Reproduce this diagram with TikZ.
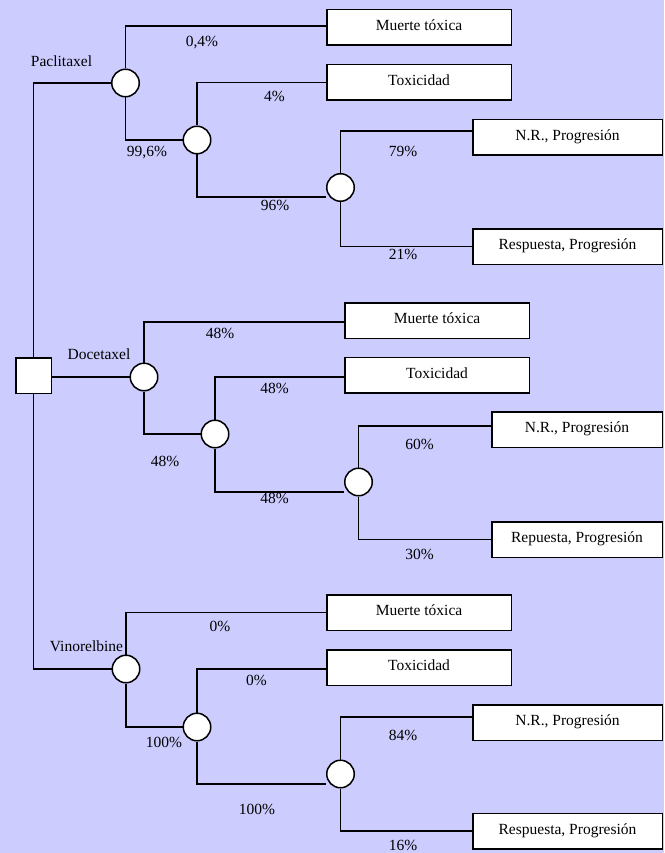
\documentclass[tikz,border=0pt]{standalone}
\usepackage{fontspec}
\setmainfont{Liberation Serif}
\pgfdeclarelayer{back}
\pgfdeclarelayer{wires}
\pgfsetlayers{back,wires,main}
\definecolor{bgc}{RGB}{204,204,255}
\begin{document}
\begin{tikzpicture}[x=1pt,y=-1pt,
  every node/.style={font=\fontsize{15.5}{18}\selectfont},
  chance/.style={circle,draw,fill=white,line width=1.5pt,minimum size=27.5pt,inner sep=0pt},
  decision/.style={rectangle,draw,fill=white,line width=1.5pt,minimum size=35.5pt,inner sep=0pt},
  outcome/.style={rectangle,draw,fill=white,line width=1.5pt,minimum height=35.5pt,inner sep=0pt,text height=0.66em,text depth=0pt},
  wbox/.style={outcome,minimum width=184.5pt},
  nbox/.style={outcome,minimum width=189.5pt},
  dbox/.style={outcome,minimum width=170.5pt},
  lbl/.style={inner sep=0pt,text height=0.68em,text depth=0pt},
  wire/.style={line width=1.2pt}]
\useasboundingbox (0,0) rectangle (664,853);
\begin{pgfonlayer}{back}
\fill[bgc] (0,0) rectangle (664,853);
\end{pgfonlayer}

% decision
\node[decision] (dec) at (33.5,375.5) {};

% Paclitaxel branch
\node[chance] (p1) at (125.5,83) {};
\node[chance] (p2) at (197,140) {};
\node[chance] (p3) at (340.5,187.5) {};
\node[wbox] (pm) at (419,27.5) {Muerte tóxica};
\node[wbox] (pt) at (419,82.5) {Toxicidad};
\node[nbox] (pn) at (567.5,137.5) {N.R., Progresión};
\node[nbox] (pr) at (567.5,246.5) {Respuesta, Progresión};
\node[lbl] (lpac) at (61.5,63) {Paclitaxel};
\node[lbl] (lp1) at (202,43) {0,4\%};
\node[lbl] (lp2) at (147,153) {99,6\%};
\node[lbl] (lp3) at (274.5,98) {4\%};
\node[lbl] (lp4) at (275,207) {96\%};
\node[lbl] (lp5) at (403,153) {79\%};
\node[lbl] (lp6) at (403,256) {21\%};

% Docetaxel branch
\node[chance] (d1) at (144,377) {};
\node[chance] (d2) at (215,434) {};
\node[chance] (d3) at (358.5,482) {};
\node[wbox] (dm) at (437,320.5) {Muerte tóxica};
\node[wbox] (dt) at (437,375) {Toxicidad};
\node[dbox] (dn) at (577,429.5) {N.R., Progresión};
\node[dbox] (dr) at (577,539.5) {Repuesta, Progresión};
\node[lbl] (ldoc) at (99,356) {Docetaxel};
\node[lbl] (ld1) at (220,335) {48\%};
\node[lbl] (ld2) at (165,463) {48\%};
\node[lbl] (ld3) at (274.5,390) {48\%};
\node[lbl] (ld4) at (274.5,500) {48\%};
\node[lbl] (ld5) at (419.5,446) {60\%};
\node[lbl] (ld6) at (419.5,556) {30\%};

% Vinorelbine branch
\node[chance] (v1) at (126,669) {};
\node[chance] (v2) at (197,727) {};
\node[chance] (v3) at (340.5,774) {};
\node[wbox] (vm) at (419,612.5) {Muerte tóxica};
\node[wbox] (vt) at (419,667.5) {Toxicidad};
\node[nbox] (vn) at (567.5,722.5) {N.R., Progresión};
\node[nbox] (vr) at (567.5,831) {Respuesta, Progresión};
\node[lbl] (lvin) at (86.5,648) {Vinorelbine};
\node[lbl] (lv1) at (220,628) {0\%};
\node[lbl] (lv2) at (164,744) {100\%};
\node[lbl] (lv3) at (256.5,682) {0\%};
\node[lbl] (lv4) at (257,811) {100\%};
\node[lbl] (lv5) at (403,737) {84\%};
\node[lbl] (lv6) at (403,847) {16\%};

\begin{pgfonlayer}{wires}
\draw[wire] (dec.north) |- (p1.west);
\draw[wire] (dec.east |- d1.west) -- (d1.west);
\draw[wire] (dec.south) |- (v1.west);
% P
\draw[wire] (p1.north) |- ([yshift=1.5pt]pm.west);
\draw[wire] (p1.south) |- (p2.west);
\draw[wire] (p2.north) |- (pt.west);
\draw[wire] (p2.south) |- ([yshift=-9.5pt]p3.west);
\draw[wire] (p3.north) |- ([yshift=6.5pt]pn.west);
\draw[wire] (p3.south) |- (pr.west);
% D
\draw[wire] (d1.north) |- ([yshift=-1.5pt]dm.west);
\draw[wire] (d1.south) |- (d2.west);
\draw[wire] (d2.north) |- ([yshift=-2pt]dt.west);
\draw[wire] (d2.south) |- ([yshift=-10pt]d3.west);
\draw[wire] (d3.north) |- ([yshift=3.5pt]dn.west);
\draw[wire] (d3.south) |- (dr.west);
% V
\draw[wire] (v1.north) |- (vm.west);
\draw[wire] (v1.south) |- (v2.west);
\draw[wire] (v2.north) |- ([yshift=-1.5pt]vt.west);
\draw[wire] (v2.south) |- ([yshift=-10pt]v3.west);
\draw[wire] (v3.north) |- ([yshift=5.5pt]vn.west);
\draw[wire] (v3.south) |- (vr.west);
\end{pgfonlayer}
\end{tikzpicture}
\end{document}
